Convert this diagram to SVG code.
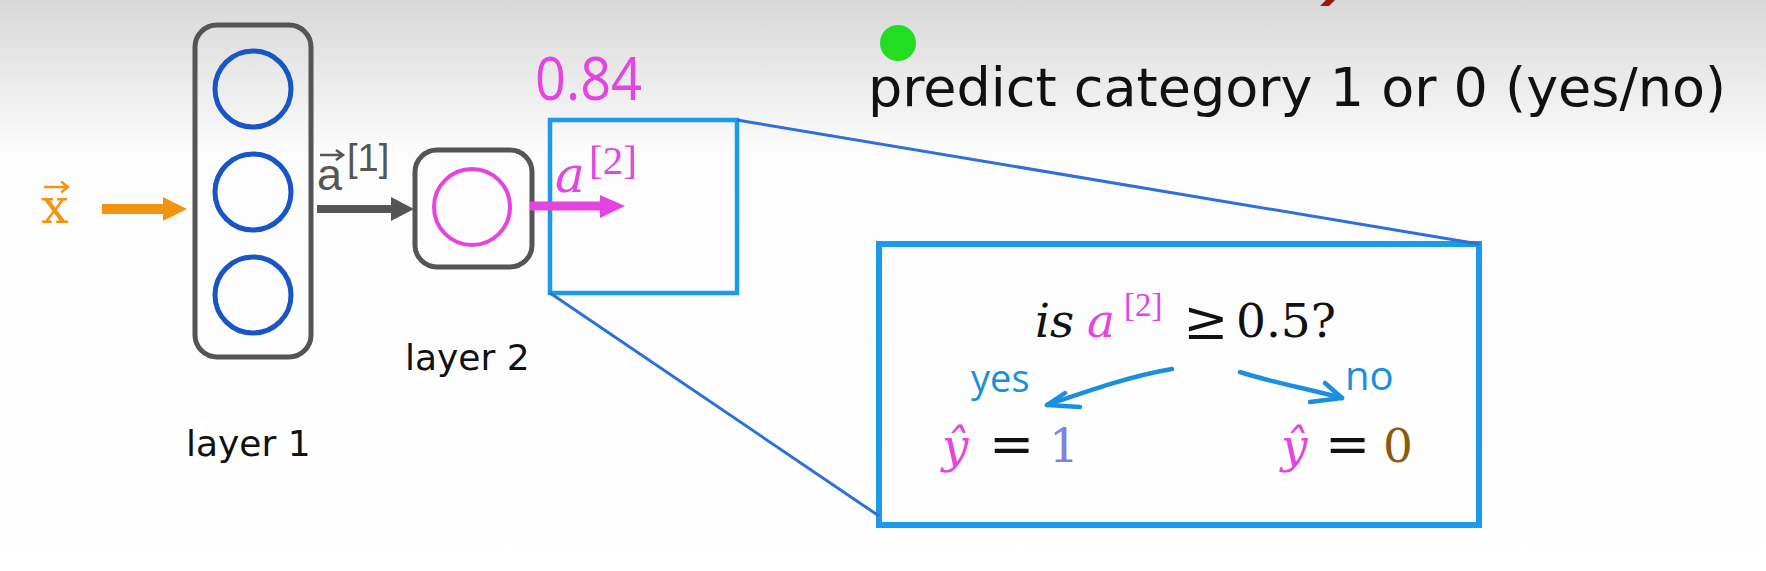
<svg xmlns="http://www.w3.org/2000/svg" width="1766" height="571" viewBox="0 0 1766 571">
  <defs>
    <linearGradient id="bg" x1="0" y1="0" x2="0" y2="1">
      <stop offset="0" stop-color="#d8d8d8"/>
      <stop offset="0.12" stop-color="#e8e8e8"/>
      <stop offset="0.27" stop-color="#fcfcfc"/>
      <stop offset="1" stop-color="#ffffff"/>
    </linearGradient>
  </defs>
  <style>
    .layerbox { fill: none; stroke: #555555; stroke-width: 5; }
    .neuron { fill: none; stroke: #1855c6; stroke-width: 5; }
    .pneuron { fill: none; stroke: #e445e0; stroke-width: 4; }
    .zoombox { fill: none; stroke: #1a9ae8; }
    .zline { stroke: #2f6fd8; stroke-width: 3; fill: none; }
    .sans { font-family: "DejaVu Sans", "Liberation Sans", sans-serif; fill: #111111; }
    .lsans { font-family: "Liberation Sans", Arial, sans-serif; }
    .serif { font-family: "DejaVu Serif", "Liberation Serif", serif; }
    .tserif { font-family: "Liberation Serif", "DejaVu Serif", serif; }
    .it { font-style: italic; }
    .hand { font-family: "Open Sans", "Noto Sans", sans-serif; font-weight: 400; }
    .pink { fill: #e445e0; }
    .blue { fill: #1a8fe0; }
    .ink { fill: #111111; }
    .harrow { fill: none; stroke: #1a8fe0; stroke-width: 4.5; stroke-linecap: round; stroke-linejoin: round; }
  </style>

  <rect x="0" y="0" width="1766" height="571" fill="url(#bg)"/>
  <polygon points="1326,0 1335,0 1329,6 1320,6" fill="#9a1515"/>
  <circle cx="898" cy="43" r="18" fill="#22dd22"/>

  <text class="sans" x="868" y="106" font-size="54" textLength="858" lengthAdjust="spacingAndGlyphs">predict category 1 or 0 (yes/no)</text>

  <g id="input-x">
    <text class="serif" x="41" y="223" font-size="49" fill="#f29410">x</text>
    <path d="M44,187 L67,187 M61,181.5 L68,187 L61,192.5" fill="none" stroke="#f29410" stroke-width="2.5"/>
  </g>

  <g id="layer1">
    <rect class="layerbox" x="195" y="25" width="116" height="332" rx="22"/>
    <circle class="neuron" cx="253" cy="89" r="38"/>
    <circle class="neuron" cx="253" cy="192" r="38"/>
    <circle class="neuron" cx="253" cy="295" r="38"/>
    <text class="sans" x="186" y="456" font-size="36">layer 1</text>
  </g>

  <g id="layer2">
    <rect class="layerbox" x="415" y="150" width="117" height="117" rx="22"/>
    <circle class="pneuron" cx="472" cy="207" r="38"/>
    <text class="sans" x="405" y="370" font-size="36">layer 2</text>
  </g>

  <g id="zoom-small">
    <rect class="zoombox" x="550" y="120" width="187" height="173" stroke-width="4.5"/>
  </g>

  <g id="zoom-big">
    <rect class="zoombox" x="879" y="244" width="600" height="281" stroke-width="6"/>
    <text class="serif it ink" x="1035" y="337" font-size="47">is</text>
    <text class="serif it pink" x="1087" y="337" font-size="47">a</text>
    <text class="tserif pink" x="1124" y="316" font-size="33">[2]</text>
    <text class="serif ink" x="1183" y="339" font-size="54">≥</text>
    <text class="serif ink" x="1236" y="337" font-size="47">0.5?</text>

    <text class="hand blue" x="971" y="392" font-size="38">yes</text>
    <text class="hand blue" x="1345" y="390" font-size="40">no</text>

    <text class="serif it pink" x="942" y="462" font-size="47">ŷ</text>
    <text class="serif ink" x="989" y="463" font-size="54">=</text>
    <text class="serif" x="1049" y="462" font-size="47" fill="#7f7fe8">1</text>

    <text class="serif it pink" x="1281" y="462" font-size="47">ŷ</text>
    <text class="serif ink" x="1325" y="463" font-size="54">=</text>
    <text class="serif" x="1383" y="462" font-size="47" fill="#8a5a10">0</text>
  </g>

  <g id="connectors">
    <line x1="102" y1="209" x2="166" y2="209" stroke="#f29410" stroke-width="10"/>
    <polygon points="163,197 187,209 163,221" fill="#f29410"/>

    <line x1="317" y1="209" x2="393" y2="209" stroke="#555555" stroke-width="8"/>
    <polygon points="391,197 414,209 391,221" fill="#555555"/>
    <text class="lsans" x="317" y="190" font-size="45" fill="#555555">a</text>
    <path d="M320,155 L342,155 M336,150 L343,155 L336,160" fill="none" stroke="#555555" stroke-width="2.5"/>
    <text class="lsans" x="347" y="171" font-size="38" fill="#555555">[1]</text>

    <line x1="530" y1="206" x2="603" y2="206" stroke="#e445e0" stroke-width="9"/>
    <polygon points="600,195 625,206 600,218" fill="#e445e0"/>
    <text class="serif it pink" x="555" y="192" font-size="50">a</text>
    <text class="tserif pink" x="589" y="174" font-size="41">[2]</text>
    <text class="hand pink" x="535" y="100" font-size="60" textLength="107" lengthAdjust="spacingAndGlyphs">0.84</text>

    <line class="zline" x1="737" y1="120" x2="1479" y2="244"/>
    <line class="zline" x1="550" y1="293" x2="879" y2="516"/>

    <path class="harrow" d="M1172,369 C1130,376 1085,392 1047,405"/>
    <path class="harrow" d="M1065,393 L1047,405 L1080,407"/>
    <path class="harrow" d="M1240,372 C1270,382 1305,388 1342,398"/>
    <path class="harrow" d="M1325,383 L1342,398 L1310,402"/>
  </g>
</svg>
